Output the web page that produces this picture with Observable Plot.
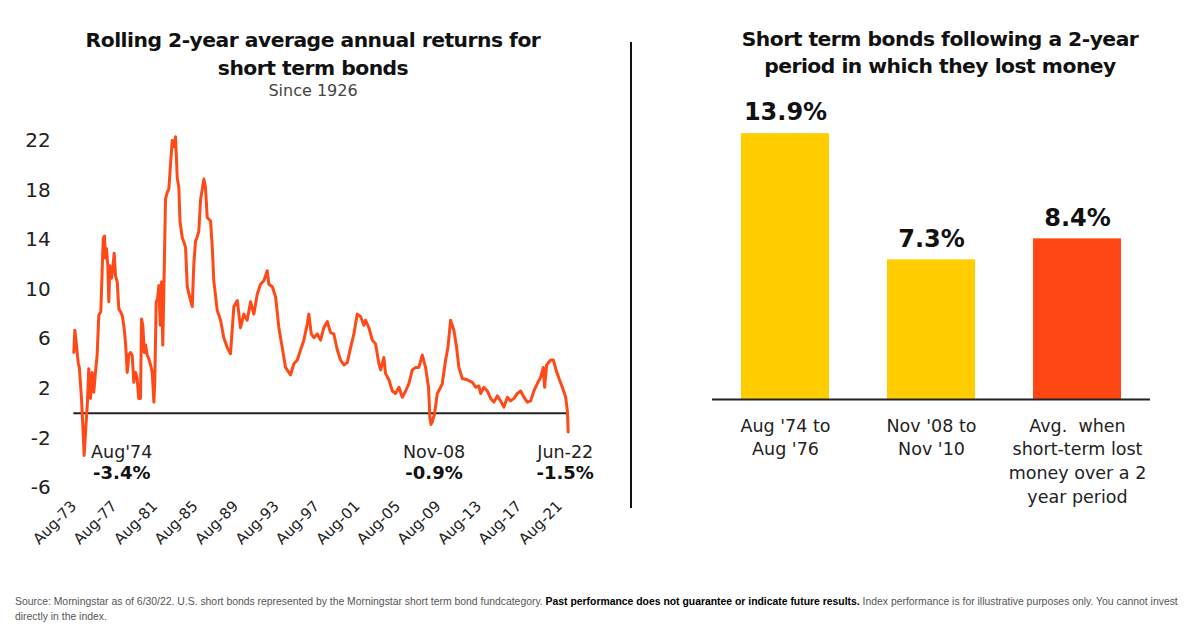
<!DOCTYPE html>
<html><head><meta charset="utf-8">
<script src="https://cdn.jsdelivr.net/npm/d3@7"></script>
<script src="https://cdn.jsdelivr.net/npm/@observablehq/plot@0.6"></script>
<style>
html,body{margin:0;padding:0;background:#fff;}
#wrap{position:relative;width:1200px;height:631px;overflow:hidden;font-family:"DejaVu Sans",sans-serif;color:#111;}
.abs{position:absolute;}
.title{font-family:"DejaVu Sans",sans-serif;font-weight:bold;text-align:center;color:#111;letter-spacing:-0.5px;}
#lt{left:13px;width:600px;top:26px;font-size:20.3px;line-height:28px;}
#sub{left:213px;width:200px;top:81px;font-size:16px;line-height:20px;text-align:center;color:#444;}
#rt{left:640px;width:600px;top:26px;font-size:20.3px;line-height:27px;}
#sep{left:630px;top:42px;width:2px;height:466px;background:#111;}
#left{left:0;top:0;width:620px;height:560px;}
#right{left:620px;top:0;width:580px;height:519px;}
#foot{left:15px;top:594px;font-family:"Liberation Sans",Arial,sans-serif;font-size:10.4px;line-height:15px;color:#555;white-space:nowrap;}
#foot b{color:#000;}
</style></head><body>
<div id="wrap">
  <div class="abs" id="left"></div>
  <div class="abs" id="right"></div>
  <div class="abs title" id="lt">Rolling 2-year average annual returns for<br>short term bonds</div>
  <div class="abs" id="sub">Since 1926</div>
  <div class="abs title" id="rt">Short term bonds following a 2-year<br>period in which they lost money</div>
  <div class="abs" id="sep"></div>
  <div class="abs" id="foot">Source: Morningstar as of 6/30/22. U.S. short bonds represented by the Morningstar short term bond fundcategory. <b>Past performance does not guarantee or indicate future results.</b> Index performance is for illustrative purposes only. You cannot invest<br>directly in the index.</div>
</div>
<script>
// ---- Left chart data: rolling 2-year average annual return (%), dates as decimal years
const lineDates = [
1973.58,1973.68,1973.82,1974.01,1974.14,1974.34,1974.47,1974.60,1974.78,1974.93,
1975.06,1975.23,1975.40,1975.56,1975.72,1975.89,1976.05,1976.25,1976.39,1976.49,
1976.61,1976.71,1976.81,1976.94,1977.04,1977.14,1977.31,1977.43,1977.57,1977.70,
1977.87,1978.03,1978.19,1978.36,1978.52,1978.69,1978.86,1979.01,1979.18,1979.35,
1979.51,1979.68,1979.84,1980.00,1980.17,1980.27,1980.40,1980.54,1980.67,1980.83,
1980.99,1981.16,1981.33,1981.49,1981.58,1981.72,1981.85,1981.98,1982.12,1982.25,
1982.37,1982.51,1982.64,1982.81,1982.97,1983.14,1983.30,1983.46,1983.63,1983.80,
1983.96,1984.07,1984.29,1984.62,1984.79,1985.11,1985.28,1985.44,1985.61,1985.77,
1985.93,1986.10,1986.43,1986.59,1986.76,1987.09,1987.26,1987.41,1987.75,1988.08,
1988.40,1988.74,1989.06,1989.39,1989.73,1990.05,1990.38,1990.71,1991.04,1991.37,
1991.70,1992.03,1992.36,1992.69,1992.85,1993.19,1993.51,1993.84,1994.17,1994.50,
1994.99,1995.32,1995.66,1995.98,1996.31,1996.64,1996.80,1997.04,1997.30,1997.63,
1997.96,1998.28,1998.62,1998.95,1999.27,1999.61,1999.93,2000.26,2000.60,2000.92,
2001.25,2001.58,2001.91,2002.24,2002.40,2002.73,2003.07,2003.39,2003.72,2003.89,
2004.21,2004.38,2004.71,2005.04,2005.37,2005.70,2006.03,2006.36,2006.68,2007.02,
2007.35,2007.67,2008.01,2008.33,2008.62,2008.76,2008.87,2008.99,2009.22,2009.49,
2009.82,2009.98,2010.31,2010.54,2010.80,2011.13,2011.40,2011.62,2011.96,2012.45,
2012.95,2013.27,2013.60,2013.77,2014.09,2014.43,2014.76,2015.08,2015.42,2015.74,
2016.07,2016.41,2016.73,2017.06,2017.39,2017.72,2018.05,2018.38,2018.71,2019.03,
2019.37,2019.70,2019.96,2020.09,2020.29,2020.69,2020.95,2021.18,2021.51,2021.84,
2022.17,2022.34,2022.42];
const lineValues = [
4.9,6.7,5.7,4.1,3.6,1.2,-1.0,-3.4,-1.0,0.9,
3.6,1.2,3.3,1.7,3.3,4.7,7.9,8.2,11.7,14.1,
14.3,12.5,13.3,11.9,9.0,11.9,10.9,11.7,12.9,11.1,
10.6,8.4,8.2,7.9,7.1,5.7,3.3,4.7,4.9,4.7,
2.5,3.3,2.8,1.2,1.2,7.6,7.1,4.9,5.5,4.7,
4.4,3.9,3.3,0.9,2.5,9.0,9.2,10.3,7.1,10.6,
5.5,11.4,17.3,17.8,18.1,20.1,22.0,21.5,22.3,19.0,
18.2,15.5,14.2,13.4,10.2,9.1,8.6,12.1,13.9,14.2,
14.7,17.2,18.9,18.2,15.8,15.5,13.4,10.7,8.3,7.5,
6.1,5.3,4.8,8.6,9.1,6.9,8.0,7.5,9.0,8.0,
9.6,10.4,10.7,11.5,10.4,10.2,9.4,6.9,5.3,3.7,
3.1,4.0,4.3,5.1,5.9,7.2,8.0,6.4,6.1,6.4,
5.9,6.9,7.4,6.5,6.4,5.1,4.3,3.9,4.1,5.3,
6.4,8.0,7.8,7.1,7.5,6.9,5.9,5.6,4.0,3.5,
4.5,3.2,2.7,1.8,1.6,2.1,1.3,1.8,2.4,3.5,
3.7,3.7,4.7,3.7,2.1,-0.4,-0.9,-0.7,0.0,1.6,
2.1,2.4,4.3,5.3,7.5,6.7,5.3,3.7,2.8,2.7,
2.5,2.1,2.2,1.6,2.1,1.8,1.2,0.9,1.4,1.0,
0.5,1.3,1.0,1.2,1.6,1.8,1.3,0.9,1.0,1.8,
2.4,2.9,3.7,2.1,3.9,4.3,4.3,3.6,2.8,2.1,
1.3,0.2,-1.5];
const yTicks = [22, 18, 14, 10, 6, 2, -2, -6];
const xTickLabels = ["Aug-73","Aug-77","Aug-81","Aug-85","Aug-89","Aug-93","Aug-97","Aug-01","Aug-05","Aug-09","Aug-13","Aug-17","Aug-21"];
const annLabels = ["Aug'74", "Nov-08", "Jun-22"];
const annDates = [1974.60, 2008.87, 2022.42];
const annValues = [-3.4, -0.9, -1.5];

// ---- Right chart data
const barCats = ["Aug '74 to\nAug '76", "Nov '08 to\nNov '10", "Avg.  when\nshort-term lost\nmoney over a 2\nyear period"];
const barValues = [13.9, 7.3, 8.4];
const barColors = ["#ffcd00", "#ffcd00", "#ff4713"];

const toDate = t => { const y = Math.floor(t); const a = Date.UTC(y, 0, 1), b = Date.UTC(y + 1, 0, 1); return new Date(a + (t - y) * (b - a)); };
const series = lineDates.map((t, i) => ({date: toDate(t), value: lineValues[i]}));
const xTicks = xTickLabels.map(d3.utcParse("%b-%y"));
const ann = annLabels.map((l, i) => ({label: l, date: toDate(annDates[i]), value: annValues[i], pct: annValues[i].toFixed(1) + "%"}));
const annStyle = [
  {anchor: "start", dx1: 7, dx2: 9, dy1: -3, dy2: 18},
  {anchor: "middle", dx1: 3, dx2: 3, dy1: 28, dy2: 49},
  {anchor: "middle", dx1: -3, dx2: -3, dy1: 20.5, dy2: 41.5}
];
const annMarks = ann.flatMap((a, i) => [
  Plot.text([a], {x: "date", y: "value", text: "label", textAnchor: annStyle[i].anchor, dx: annStyle[i].dx1, dy: annStyle[i].dy1, fontSize: 17.5, fill: "#222"}),
  Plot.text([a], {x: "date", y: "value", text: "pct", textAnchor: annStyle[i].anchor, dx: annStyle[i].dx2, dy: annStyle[i].dy2, fontSize: 18, fontWeight: "bold", fill: "#111"})
]);

const left = Plot.plot({
  width: 620, height: 560,
  marginLeft: 73.3, marginRight: 52.3, marginTop: 140, marginBottom: 72.8,
  style: {fontFamily: "DejaVu Sans", background: "transparent", overflow: "visible", color: "#222"},
  x: {type: "utc", domain: [series[0].date, series[series.length - 1].date]},
  y: {domain: [-6, 22]},
  marks: [
    Plot.axisY({ticks: yTicks, tickFormat: d => String(d), tickSize: 0, tickPadding: 23, fontSize: 20, fill: "#222", label: null}),
    Plot.axisX({ticks: xTicks, tickFormat: d3.utcFormat("%b-%y"), tickRotate: -45, tickSize: 0, tickPadding: 16, fontSize: 15, fill: "#222", label: null}),
    Plot.ruleY([0], {stroke: "#222", strokeWidth: 2}),
    Plot.line(series, {x: "date", y: "value", stroke: "#ff4a17", strokeWidth: 3, strokeLinejoin: "round"}),
    ...annMarks
  ]
});
document.getElementById("left").appendChild(left);

const bars = barCats.map((c, i) => ({cat: c, value: barValues[i], color: barColors[i], lab: barValues[i].toFixed(1) + "%"}));
const right = Plot.plot({
  width: 580, height: 519,
  marginLeft: 92, marginRight: 50, marginTop: 93, marginBottom: 120,
  style: {fontFamily: "DejaVu Sans", background: "transparent", overflow: "visible", color: "#222"},
  x: {domain: barCats, paddingInner: 0.395, paddingOuter: 0.188},
  y: {domain: [0, 16]},
  color: {type: "identity"},
  marks: [
    Plot.barY(bars, {x: "cat", y: "value", fill: "color"}),
    Plot.ruleY([0], {stroke: "#222", strokeWidth: 2}),
    Plot.text(bars, {x: "cat", y: "value", text: "lab", dy: -21, fontSize: 24, fontWeight: "bold", fill: "#111"}),
    Plot.axisX({tickSize: 0, tickPadding: 15, fontSize: 17.5, lineHeight: 1.37, fill: "#222", label: null}),
    Plot.axisY({ticks: [], label: null})
  ]
});
document.getElementById("right").appendChild(right);
</script>
</body></html>
